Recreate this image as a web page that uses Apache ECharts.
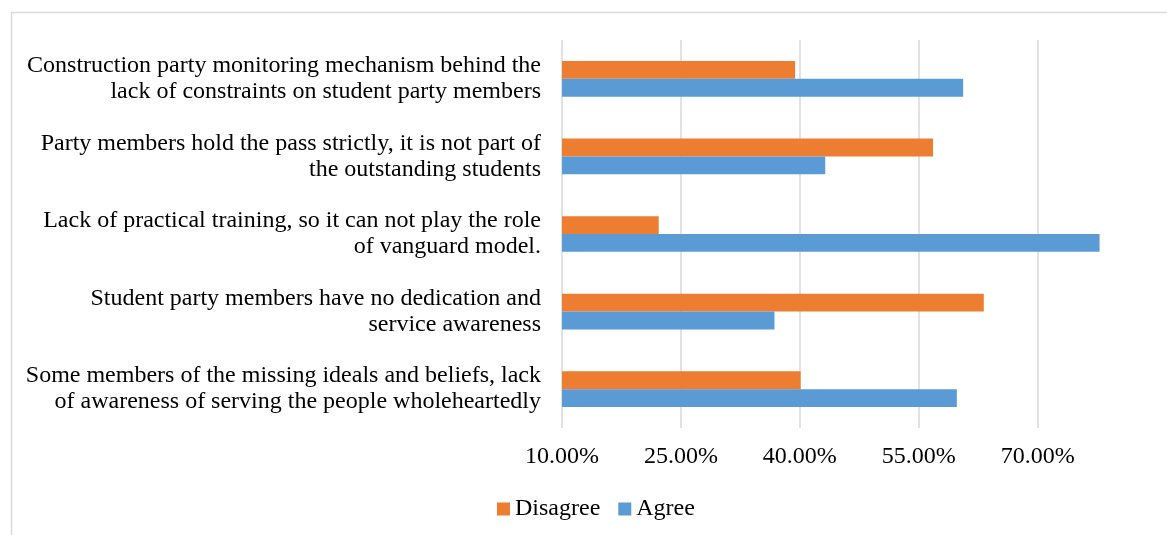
<!DOCTYPE html>
<html>
<head>
<meta charset="utf-8">
<script src="https://cdn.jsdelivr.net/npm/echarts@6/dist/echarts.min.js"></script>
<style>html,body{margin:0;padding:0;background:#fff;}#c{width:1167px;height:535px;}</style>
</head>
<body>
<div id="c"></div>
<script>
// Categories listed bottom-to-top (as in the source chart's data order)
const categories = [
  "Some members of the missing ideals and beliefs, lack\nof awareness of serving the people wholeheartedly",
  "Student party members have no dedication and\nservice awareness",
  "Lack of practical training, so it can not play the role\nof vanguard model.",
  "Party members hold the pass strictly, it is not part of\nthe outstanding students",
  "Construction party monitoring mechanism behind the\nlack of constraints on student party members"
];
const agree = [59.8, 36.8, 77.8, 43.2, 60.6];
const disagree = [40.1, 63.2, 22.2, 56.8, 39.4];
const tickValues = [10, 25, 40, 55, 70];
const seriesNames = ["Disagree", "Agree"];

const chart = echarts.init(document.getElementById('c'));
const font = "'Liberation Serif', 'Times New Roman', serif";
chart.setOption({
  animation: false,
  textStyle: { fontFamily: font },
  graphic: [{
    type: 'rect', left: 9, top: 10,
    shape: { width: 1170, height: 540 },
    style: { fill: 'none', stroke: '#d9d9d9', lineWidth: 1.5 },
    silent: true
  }],
  grid: { left: 562, right: 50, top: 40, bottom: 107 },
  legend: {
    data: ["Disagree", "Agree"],
    bottom: 9, left: 492,
    itemWidth: 13, itemHeight: 13, itemGap: 18,
    icon: 'rect',
    textStyle: { fontFamily: font, fontSize: 24, color: '#000', padding: [0, 0, 0, 0] }
  },
  xAxis: {
    type: 'value', min: 10, max: 80,
    axisLine: { show: false }, axisTick: { show: false, customValues: tickValues },
    axisLabel: {
      customValues: tickValues,
      formatter: v => v.toFixed(2) + '%',
      fontFamily: font, fontSize: 24, color: '#000', margin: 17
    },
    splitLine: { show: true, lineStyle: { color: '#d9d9d9', width: 1.5 } }
  },
  yAxis: {
    type: 'category', data: categories,
    axisLine: { show: false }, axisTick: { show: false },
    axisLabel: { fontFamily: font, fontSize: 24, color: '#000', align: 'right', margin: 21, lineHeight: 26 }
  },
  series: [
    { name: seriesNames[1], type: 'bar', data: agree, itemStyle: { color: '#5B9BD5' }, barGap: '0%', barCategoryGap: '54%' },
    { name: seriesNames[0], type: 'bar', data: disagree, itemStyle: { color: '#ED7D31' }, barGap: '0%', barCategoryGap: '54%' }
  ].reverse()
});
</script>
</body>
</html>
